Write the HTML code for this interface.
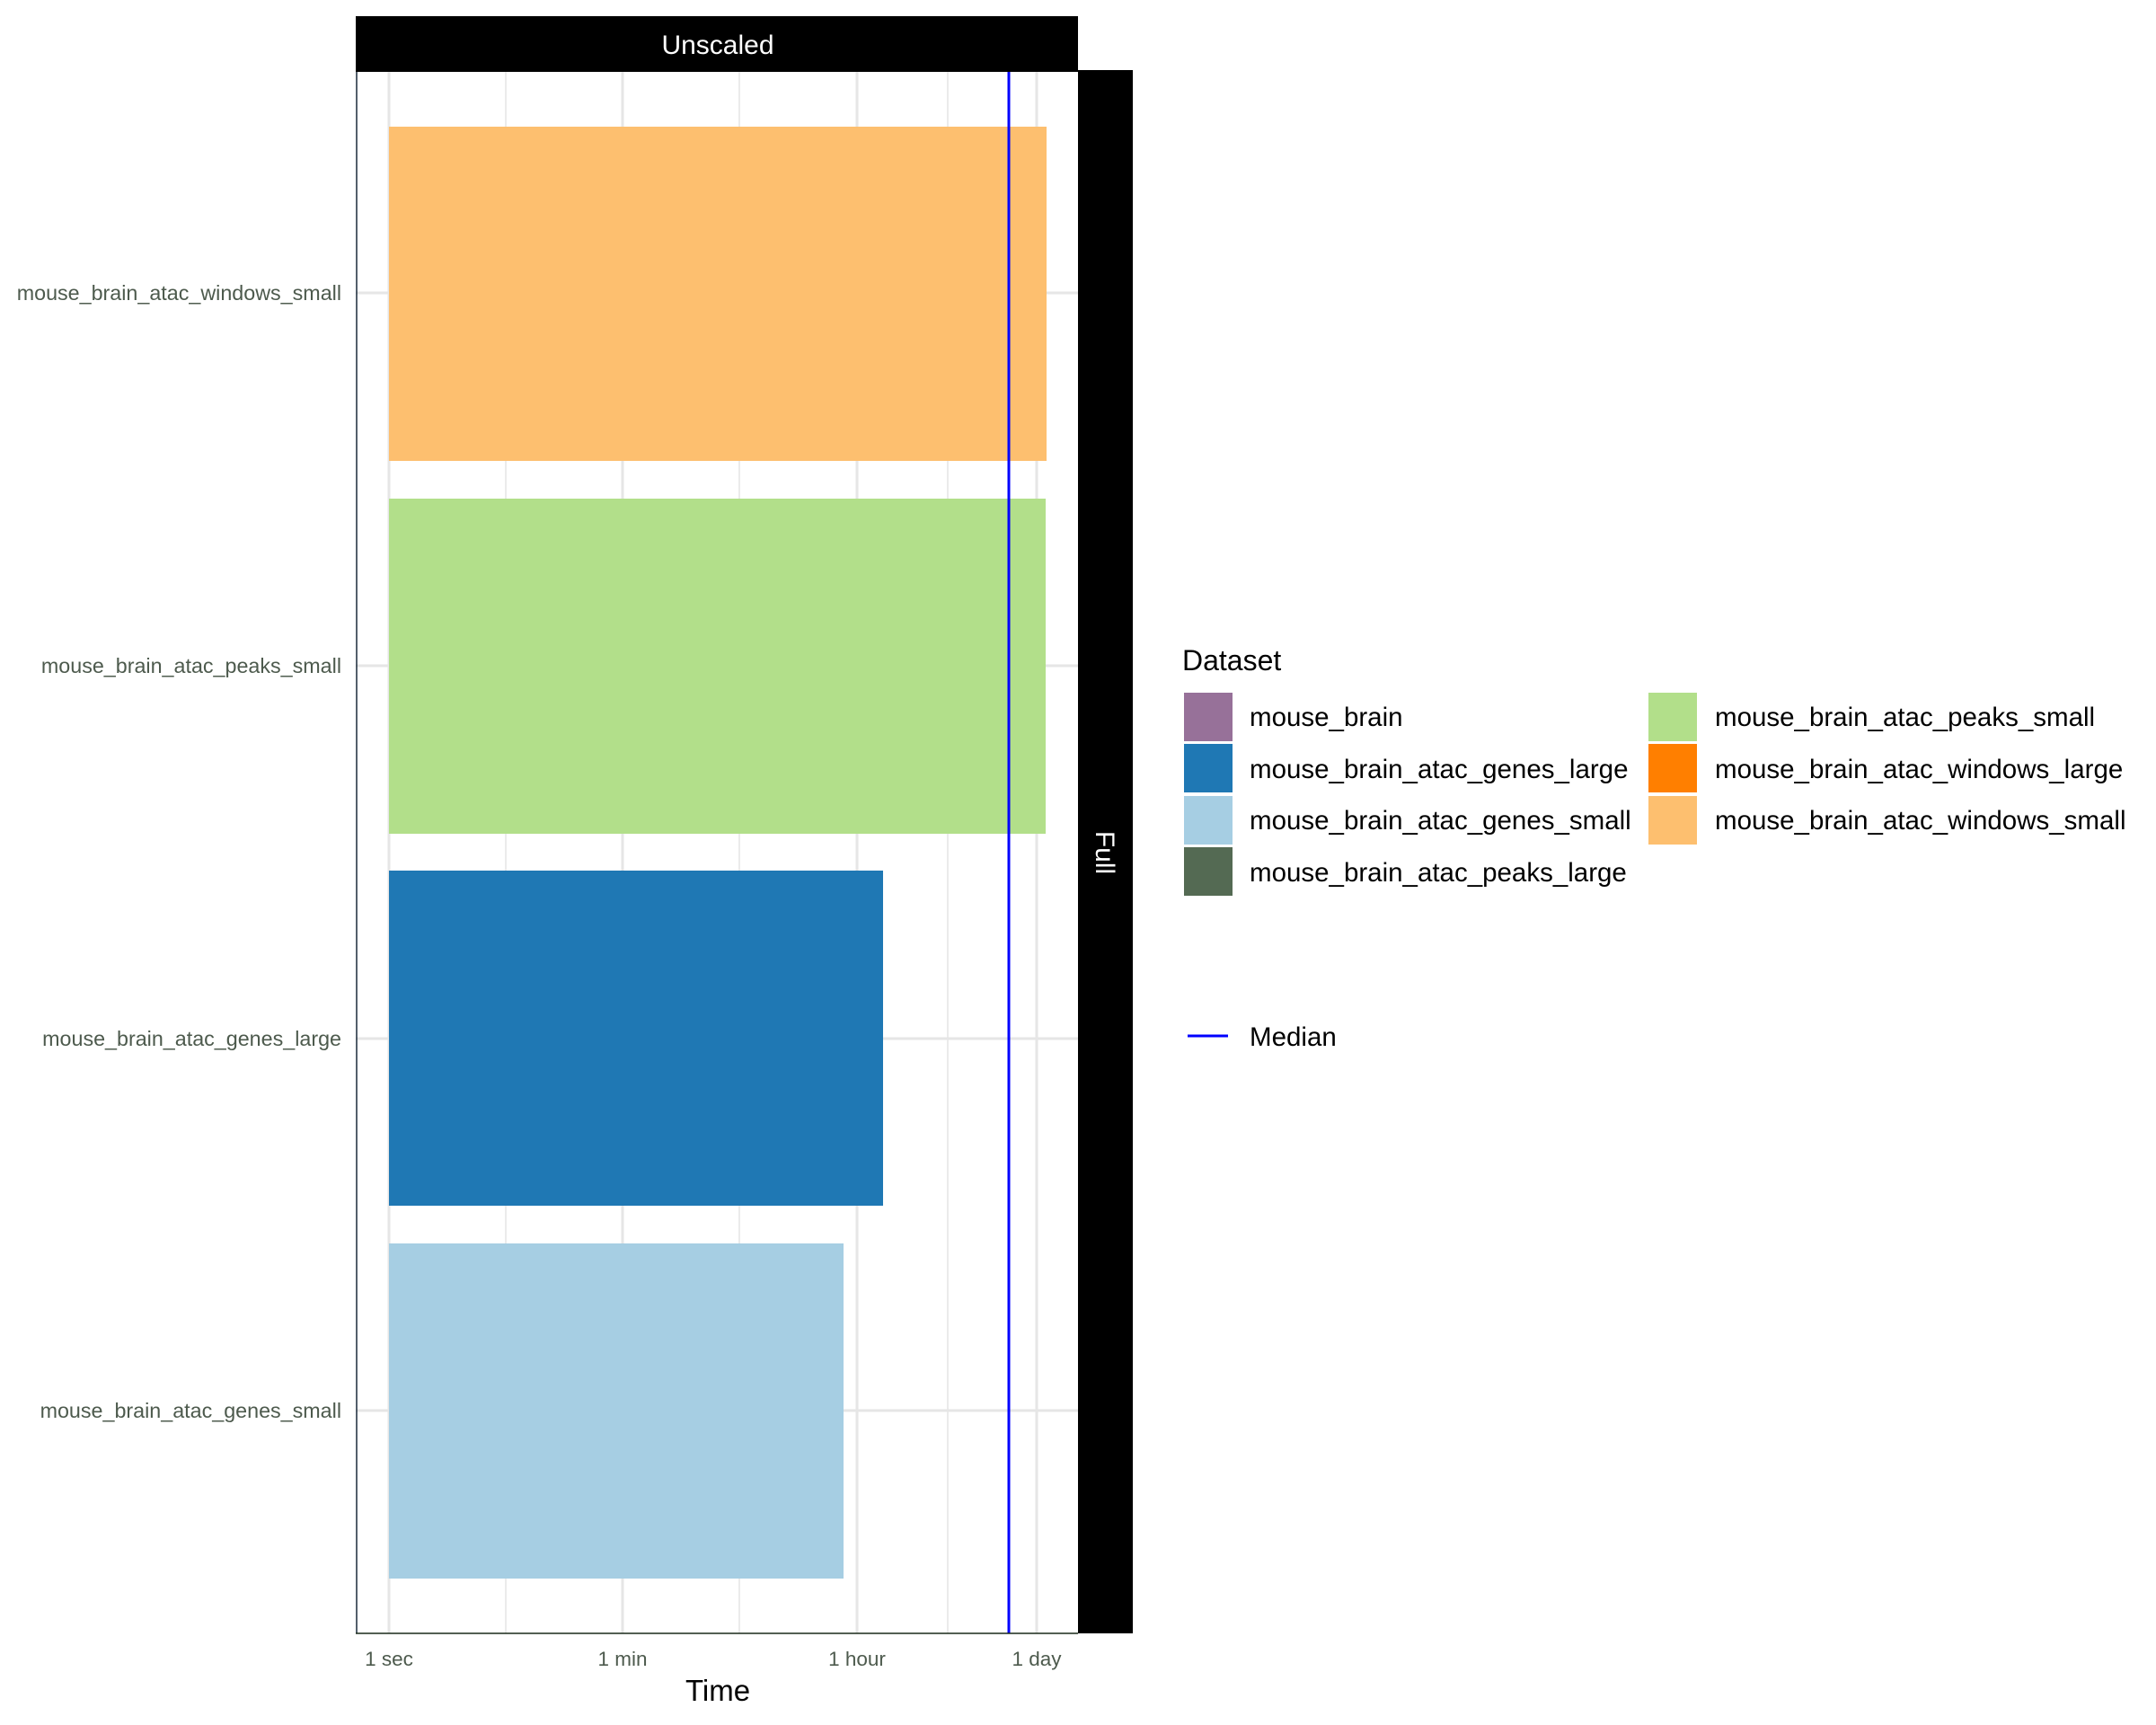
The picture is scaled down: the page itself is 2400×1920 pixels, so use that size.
<!DOCTYPE html>
<html><head><meta charset="utf-8"><style>body{margin:0;background:#fff}svg{display:block}</style></head>
<body>
<svg width="2400" height="1920" viewBox="0 0 2400 1920" xmlns="http://www.w3.org/2000/svg" font-family="Liberation Sans, sans-serif">
<rect width="2400" height="1920" fill="#fff"/>
<g stroke="#ebebeb" stroke-width="2">
<line x1="563" y1="80" x2="563" y2="1818"/><line x1="823" y1="80" x2="823" y2="1818"/><line x1="1055" y1="80" x2="1055" y2="1818"/>
</g>
<g stroke="#e6e6e6" stroke-width="3">
<line x1="433" y1="80" x2="433" y2="1818"/><line x1="693" y1="80" x2="693" y2="1818"/><line x1="954" y1="80" x2="954" y2="1818"/><line x1="1154" y1="80" x2="1154" y2="1818"/>
<line x1="396" y1="326" x2="1200" y2="326"/><line x1="396" y1="741" x2="1200" y2="741"/><line x1="396" y1="1156" x2="1200" y2="1156"/><line x1="396" y1="1570" x2="1200" y2="1570"/>
</g>
<rect x="433" y="141" width="732" height="372" fill="#fdbf6f"/>
<rect x="433" y="555" width="731" height="373" fill="#b2df8a"/>
<rect x="433" y="969" width="550" height="373" fill="#1f78b4"/>
<rect x="433" y="1384" width="506" height="373" fill="#a6cee3"/>
<line x1="1123" y1="80" x2="1123" y2="1818" stroke="#0000ff" stroke-width="3"/>
<line x1="397" y1="80" x2="397" y2="1818" stroke="#1a2a3a" stroke-width="1.5"/>
<line x1="396" y1="1818" x2="1200" y2="1818" stroke="#1a2a1a" stroke-width="1.5"/>
<rect x="396" y="18" width="804" height="62" fill="#000"/>
<text x="799" y="60" font-size="30" fill="#fff" text-anchor="middle">Unscaled</text>
<rect x="1200" y="78" width="61" height="1740" fill="#000"/>
<text transform="translate(1220,949) rotate(90)" font-size="30" fill="#fff" text-anchor="middle">Full</text>
<g font-size="23.3" fill="#4d5a4d" text-anchor="end">
<text x="380" y="334">mouse_brain_atac_windows_small</text>
<text x="380" y="749">mouse_brain_atac_peaks_small</text>
<text x="380" y="1164">mouse_brain_atac_genes_large</text>
<text x="380" y="1578">mouse_brain_atac_genes_small</text>
</g>
<g font-size="22.5" fill="#4d5a4d" text-anchor="middle">
<text x="433" y="1854">1 sec</text><text x="693" y="1854">1 min</text><text x="954" y="1854">1 hour</text><text x="1154" y="1854">1 day</text>
</g>
<text x="799" y="1893" font-size="33" fill="#000" text-anchor="middle">Time</text>
<text x="1316" y="746" font-size="32" fill="#000">Dataset</text>
<rect x="1318" y="771" width="54" height="54" fill="#977199"/>
<rect x="1318" y="828" width="54" height="54" fill="#1f78b4"/>
<rect x="1318" y="886" width="54" height="54" fill="#a6cee3"/>
<rect x="1318" y="943" width="54" height="54" fill="#546a53"/>
<rect x="1835" y="771" width="54" height="54" fill="#b2df8a"/>
<rect x="1835" y="828" width="54" height="54" fill="#ff7f00"/>
<rect x="1835" y="886" width="54" height="54" fill="#fdbf6f"/>
<g font-size="29.5" fill="#000">
<text x="1391" y="808">mouse_brain</text>
<text x="1391" y="866">mouse_brain_atac_genes_large</text>
<text x="1391" y="923">mouse_brain_atac_genes_small</text>
<text x="1391" y="981">mouse_brain_atac_peaks_large</text>
<text x="1909" y="808">mouse_brain_atac_peaks_small</text>
<text x="1909" y="866">mouse_brain_atac_windows_large</text>
<text x="1909" y="923">mouse_brain_atac_windows_small</text>
<text x="1391" y="1164">Median</text>
</g>
<line x1="1322" y1="1153" x2="1367" y2="1153" stroke="#0000ff" stroke-width="3"/>
</svg>
</body></html>
